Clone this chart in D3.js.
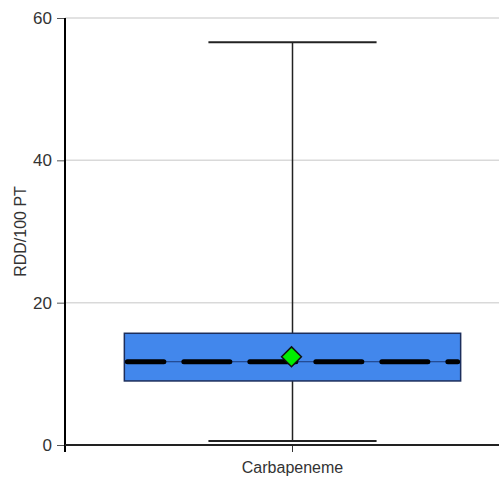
<!DOCTYPE html>
<html>
<head>
<meta charset="utf-8">
<script src="https://cdn.jsdelivr.net/npm/d3@7"></script>
<style>
  body { margin: 0; background: #fff; }
  text { font-family: "Liberation Sans", Arial, sans-serif; }
</style>
</head>
<body>
<div id="chart-area"></div>
<script>
// data
const categories = ["Carbapeneme"];
const whiskerLow = [0.55];
const q1 = [9.0];
const median = [11.7];
const q3 = [15.7];
const whiskerHigh = [56.6];
const mean = [12.4];
const yTicks = [0, 20, 40, 60];

const data = categories.map((c, i) => ({
  cat: c,
  lo: whiskerLow[i],
  q1: q1[i],
  med: median[i],
  q3: q3[i],
  hi: whiskerHigh[i],
  mean: mean[i]
}));

const W = 499, H = 480;
const margin = { top: 18, right: -21, bottom: 35, left: 65 };
const width = W - margin.left - margin.right,
  height = H - margin.top - margin.bottom;

const svg = d3
  .select("#chart-area")
  .append("svg")
  .attr("width", W)
  .attr("height", H);

const g = svg
  .append("g")
  .attr("transform", `translate(${margin.left}, ${margin.top})`);

// Scales
const xScale = d3.scaleBand().domain(categories).range([0, width]).padding(0.15);
const yScale = d3.scaleLinear().domain([0, 60]).range([height, 0]);

// Gridlines
g.selectAll("line.grid")
  .data(yTicks.filter(d => d > 0))
  .enter()
  .append("line")
  .attr("class", "grid")
  .attr("x1", 0)
  .attr("x2", width)
  .attr("y1", d => yScale(d))
  .attr("y2", d => yScale(d))
  .attr("stroke", "#d9d9d9")
  .attr("stroke-width", 1.5);

// Y axis
const yAxisGroup = g.append("g").call(
  d3.axisLeft(yScale).tickValues(yTicks).tickSize(8).tickPadding(5)
);
yAxisGroup.select(".domain").remove();
yAxisGroup.selectAll(".tick line").attr("stroke", "#555").attr("stroke-width", 1);
yAxisGroup
  .selectAll("text")
  .attr("font-size", "17px")
  .attr("fill", "#333")
  .attr("font-family", '"Liberation Sans", Arial, sans-serif');

g.append("line")
  .attr("x1", 0).attr("x2", 0)
  .attr("y1", 0).attr("y2", height + 7)
  .attr("stroke", "#000")
  .attr("stroke-width", 2);

// X axis
const xAxisGroup = g
  .append("g")
  .attr("transform", `translate(0,${height})`)
  .call(d3.axisBottom(xScale).tickSize(7).tickPadding(10));
xAxisGroup.select(".domain").remove();
xAxisGroup.selectAll(".tick line").attr("stroke", "#333").attr("stroke-width", 1);
xAxisGroup
  .selectAll("text")
  .attr("font-size", "16px")
  .attr("fill", "#333")
  .attr("font-family", '"Liberation Sans", Arial, sans-serif');

g.append("line")
  .attr("x1", 0).attr("x2", width)
  .attr("y1", height).attr("y2", height)
  .attr("stroke", "#222")
  .attr("stroke-width", 2);

// Y label
g.append("text")
  .attr("x", -(height / 2))
  .attr("y", -39)
  .attr("font-size", "16px")
  .attr("fill", "#333")
  .attr("text-anchor", "middle")
  .attr("transform", "rotate(-90)")
  .text("RDD/100 PT");

// Boxes
const boxes = g
  .selectAll("g.box")
  .data(data)
  .enter()
  .append("g")
  .attr("class", "box");

const cx = d => xScale(d.cat) + xScale.bandwidth() / 2;
const bw = xScale.bandwidth();

// stem
boxes.append("line")
  .attr("x1", cx).attr("x2", cx)
  .attr("y1", d => yScale(d.lo))
  .attr("y2", d => yScale(d.hi))
  .attr("stroke", "#222")
  .attr("stroke-width", 1.5);

// whisker caps
["lo", "hi"].forEach(k => {
  boxes.append("line")
    .attr("x1", d => cx(d) - bw / 4)
    .attr("x2", d => cx(d) + bw / 4)
    .attr("y1", d => yScale(d[k]))
    .attr("y2", d => yScale(d[k]))
    .attr("stroke", "#222")
    .attr("stroke-width", 2);
});

boxes.append("rect")
  .attr("x", d => xScale(d.cat))
  .attr("width", bw)
  .attr("y", d => yScale(d.q3))
  .attr("height", d => yScale(d.q1) - yScale(d.q3))
  .attr("fill", "#4287ec")
  .attr("stroke", "#1c2e5c")
  .attr("stroke-width", 1.5);

// thin median under the dashes
boxes.append("line")
  .attr("x1", d => xScale(d.cat)).attr("x2", d => xScale(d.cat) + bw)
  .attr("y1", d => yScale(d.med)).attr("y2", d => yScale(d.med))
  .attr("stroke", "#1c3a7a")
  .attr("stroke-width", 1);

boxes.append("line")
  .attr("x1", d => xScale(d.cat) + 3).attr("x2", d => xScale(d.cat) + bw - 3)
  .attr("y1", d => yScale(d.med)).attr("y2", d => yScale(d.med))
  .attr("stroke", "#000")
  .attr("stroke-width", 5)
  .attr("stroke-linecap", "round")
  .attr("stroke-dasharray", "46,20")
  .attr("stroke-dashoffset", 9.5);

// mean diamond
boxes.append("path")
  .attr("d", d3.symbol().type(d3.symbolDiamond2).size(250))
  .attr("transform", d => `translate(${cx(d) - 1},${yScale(d.mean)})`)
  .attr("fill", "#00ee00")
  .attr("stroke", "#111")
  .attr("stroke-width", 1.5);
</script>
</body>
</html>
